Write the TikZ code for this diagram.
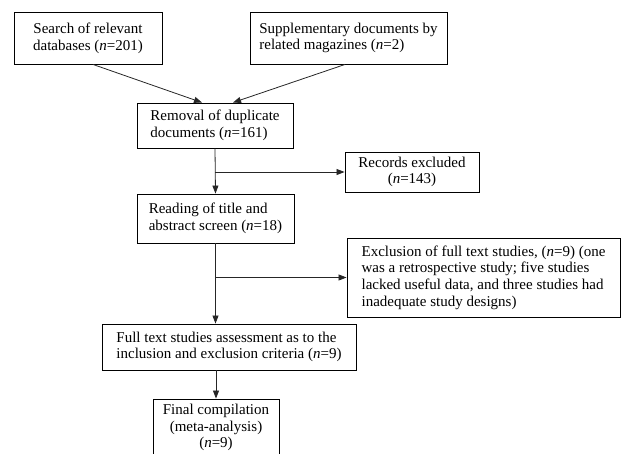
\documentclass[tikz,border=0pt]{standalone}
\usepackage{fontspec}
\setmainfont{Liberation Serif}
\usetikzlibrary{arrows.meta}
\begin{document}
\begin{tikzpicture}[x=1pt,y=-1pt,
  box/.style={draw=black, line width=0.9pt, rectangle, inner sep=0pt,
    font=\fontsize{15}{16.7}\selectfont},
  conn/.style={draw=black!85, line width=0.8pt},
  arr/.style={conn, -{Triangle[length=8pt,width=6pt]}}]
\useasboundingbox (0,0) rectangle (621,453);
\clip (0,0) rectangle (621,453);
\node[box, minimum width=148pt, minimum height=52pt, align=center] (b1) at (88,38)
  {Search of relevant\\databases (\textit{n}=201)};
\node[box, minimum width=197pt, minimum height=52pt, align=left] (b2) at (348.5,38)
  {Supplementary documents by\\related magazines (\textit{n}=2)};
\node[box, minimum width=156pt, minimum height=45pt, align=left] (b3) at (215,125.5)
  {Removal of duplicate\\documents (\textit{n}=161)};
\node[box, minimum width=134pt, minimum height=40pt, align=center] (b4) at (412,172)
  {Records excluded\\(\textit{n}=143)};
\node[box, minimum width=157pt, minimum height=49pt, align=left] (b5) at (215.5,218.5)
  {Reading of title and\\abstract screen (\textit{n}=18)};
\node[box, minimum width=273pt, minimum height=79pt, align=left] (b6) at (483.5,277.5)
  {Exclusion of full text studies, (\textit{n}=9) (one\\was a retrospective study; five studies\\lacked useful data, and three studies had\\inadequate study designs)};
\node[box, minimum width=254pt, minimum height=46pt, align=left] (b7) at (229,347)
  {Full text studies assessment as to the\\inclusion and exclusion criteria (\textit{n}=9)};
\node[box, minimum width=126pt, minimum height=57pt, align=center] (b8) at (216,427.5)
  {Final compilation\\(meta-analysis)\\(\textit{n}=9)};
\draw[arr] ([xshift=5pt]b1.south) -- ([xshift=-13pt]b3.north);
\draw[arr] ([xshift=-3.5pt]b2.south) -- ([xshift=18pt]b3.north);
\draw[arr] (b3.south) -- (b5.north);
\draw[arr] (b3.south |- b4.west) -- (b4.west);
\draw[arr] (b5.south) -- (b5.south |- b7.north);
\draw[arr] (b5.south |- b6.west) -- (b6.west);
\draw[arr] (b8.north |- b7.south) -- (b8.north);
\end{tikzpicture}
\end{document}
